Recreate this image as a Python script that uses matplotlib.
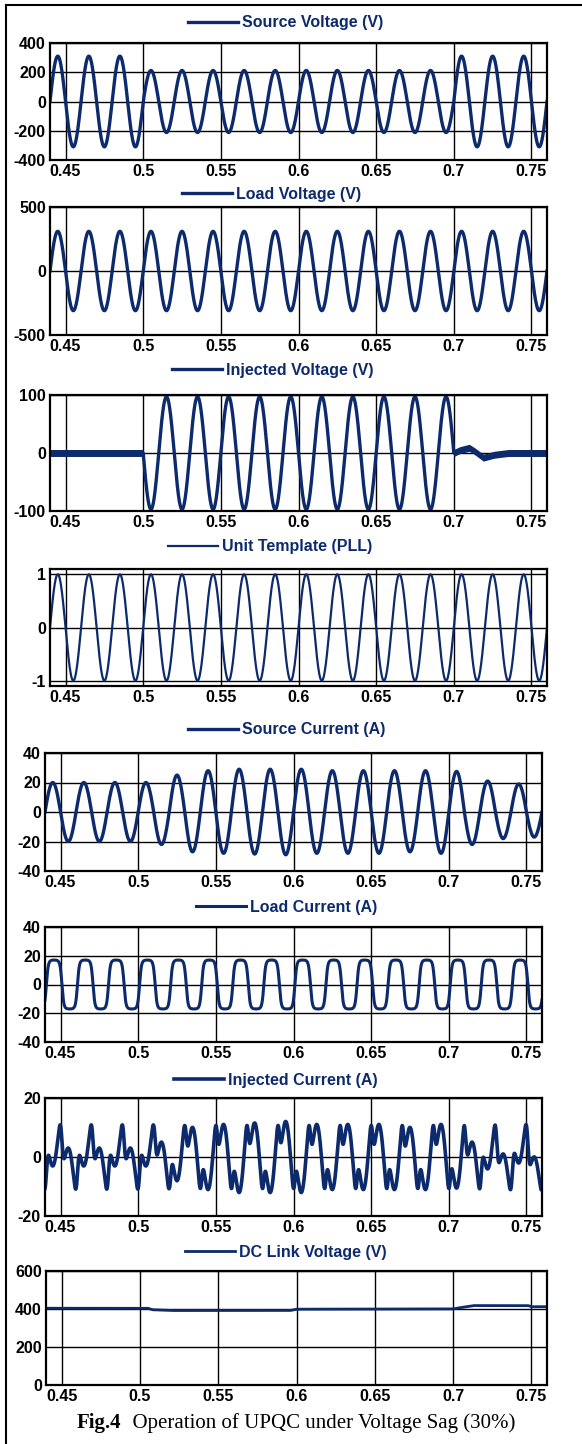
import numpy as np
import matplotlib
matplotlib.use("Agg")
import matplotlib.pyplot as plt
from matplotlib.lines import Line2D

# ---------------- data ----------------
t_start, t_end = 0.44, 0.76
f_grid = 50.0                      # Hz, supply frequency
half_period = 0.01                 # s

xticks = [0.45, 0.5, 0.55, 0.6, 0.65, 0.7, 0.75]
xtick_labels = ["0.45", "0.5", "0.55", "0.6", "0.65", "0.7", "0.75"]

# peak value of each half cycle (32 half cycles from 0.44 s to 0.76 s)
source_voltage_peaks = [310, 310, 310, 310, 310, 310,
                        212, 212, 212, 212, 212, 212, 212, 212, 212, 212,
                        212, 212, 212, 212, 212, 212, 212, 212, 212, 212,
                        310, 310, 310, 310, 310, 310]
load_voltage_peaks = [310] * 32
injected_voltage_peaks = [0, 0, 0, 0, 0, 0,
                          -97, -97, -97, -97, -97, -97, -97, -97, -97, -97,
                          -97, -97, -97, -97, -97, -97, -97, -97, -97, -97,
                          0, 0, 0, 0, 0, 0]
# transient of the series inverter after the sag clears
inj_transient_t = [0.700, 0.704, 0.710, 0.714, 0.719, 0.726, 0.735, 0.760]
inj_transient_v = [0, 5, 9, 2, -8, -3, 0, 0]
# width of switching-noise band (segments 0.44-0.5, 0.5-0.7, 0.7-0.76)
inj_noise_edges = [0.44, 0.50, 0.70, 0.76]
inj_noise_halfwidth = [6, 2.5, 6]

unit_template_peaks = [1.0] * 32

source_current_peaks = [20, 20, 20, 20, 20, 20, 20, 22, 25, 27, 28, 28, 29, 28.5, 29, 29,
                        29, 28, 28, 28, 28, 28, 28, 27, 28, 28, 27.5, 22, 21, 18, 19, 17]
load_current_peaks = [17] * 32
load_current_lag = 0.0009          # s, lag of the rectifier current
load_current_squareness = 2.6      # flat-top factor of the quasi-square current

dc_t = [0.440, 0.505, 0.508, 0.520, 0.596, 0.600, 0.700, 0.703, 0.713, 0.748, 0.750, 0.760]
dc_v = [404, 404, 396, 392, 392, 399, 400, 405, 418, 418, 412, 412]

legend_labels = ["Source Voltage (V)", "Load Voltage (V)", "Injected Voltage (V)",
                 "Unit Template (PLL)", "Source Current (A)", "Load Current (A)",
                 "Injected Current (A)", "DC Link Voltage (V)"]
ylims = [(-400, 400), (-500, 500), (-100, 100), (-1.1, 1.1),
         (-40, 40), (-40, 40), (-20, 20), (0, 600)]
yticks = [[-400, -200, 0, 200, 400], [-500, 0, 500], [-100, 0, 100], [-1, 0, 1],
          [-40, -20, 0, 20, 40], [-40, -20, 0, 20, 40], [-20, 0, 20], [0, 200, 400, 600]]
ytick_labels = [["-400", "-200", "0", "200", "400"], ["-500", "0", "500"],
                ["-100", "0", "100"], ["-1", "0", "1"],
                ["-40", "-20", "0", "20", "40"], ["-40", "-20", "0", "20", "40"],
                ["-20", "0", "20"], ["0", "200", "400", "600"]]
caption_bold = "Fig.4"
caption_rest = "  Operation of UPQC under Voltage Sag (30%)"

# ---------------- waveform construction ----------------
t = np.linspace(t_start, t_end, 6401)
theta = 2 * np.pi * f_grid * (t - t_start)
k = np.clip(((t - t_start) / half_period).astype(int), 0, 31)


def half_cycle_sine(peaks):
    return np.asarray(peaks, float)[k] * np.sin(theta)


v_source = half_cycle_sine(source_voltage_peaks)
v_load = half_cycle_sine(load_voltage_peaks)
v_inj = half_cycle_sine(injected_voltage_peaks) + np.interp(t, inj_transient_t, inj_transient_v)
seg = np.clip(np.searchsorted(inj_noise_edges, t, side="right") - 1, 0, 2)
v_inj_band = np.asarray(inj_noise_halfwidth, float)[seg]
u_tmpl = half_cycle_sine(unit_template_peaks)
i_source = half_cycle_sine(source_current_peaks)
s_lag = np.sin(theta - 2 * np.pi * f_grid * load_current_lag)
i_load = (np.asarray(load_current_peaks, float)[k] *
          np.tanh(load_current_squareness * s_lag) / np.tanh(load_current_squareness))
i_inj = i_load - i_source
v_dc = np.interp(t, dc_t, dc_v)

series = [v_source, v_load, v_inj, u_tmpl, i_source, i_load, i_inj, v_dc]

# ---------------- layout (pixels of the 582x1444 reference) ----------------
W, H = 582, 1444
navy = "#0c2a6c"
fig = plt.figure(figsize=(W / 100, H / 100), dpi=100)

axes_px = [(50, 547, 43, 160), (50, 547, 207, 335), (50, 547, 395, 511), (50, 547, 569, 686),
           (45, 542, 753, 871), (45, 542, 927, 1042), (45, 542, 1098, 1216), (46, 547, 1271, 1385)]
legend_px = [(188, 23), (182, 194), (172, 370), (168, 547),
             (188, 730), (196, 907), (174, 1080), (185, 1252)]
line_widths = [2.4, 2.4, 2.4, 1.6, 2.4, 2.2, 2.6, 2.0]

tick_font = dict(family="Liberation Sans", weight="bold", size=11.5)

for i in range(8):
    x0, x1, y0, y1 = axes_px[i]
    ax = fig.add_axes([x0 / W, 1 - y1 / H, (x1 - x0) / W, (y1 - y0) / H])
    ax.plot(t, series[i], color=navy, lw=line_widths[i], label=legend_labels[i],
            solid_joinstyle="round", zorder=3)
    if i == 2:
        ax.fill_between(t, v_inj - v_inj_band, v_inj + v_inj_band, color=navy, lw=0, zorder=3)
    ax.set_xlim(t_start, t_end)
    ax.set_ylim(*ylims[i])
    ax.set_xticks(xticks)
    ax.set_xticklabels(xtick_labels, fontdict=tick_font)
    ax.set_yticks(yticks[i])
    ax.set_yticklabels(ytick_labels[i], fontdict=tick_font)
    ax.tick_params(length=0, pad=3)
    ax.grid(True, color="black", lw=1.0, zorder=1)
    for sp in ax.spines.values():
        sp.set_linewidth(1.6)
        sp.set_color("black")
        sp.set_zorder(4)
    lx, ly = legend_px[i]
    ax.legend(loc="center left", bbox_to_anchor=(lx / W, 1 - ly / H),
              bbox_transform=fig.transFigure, frameon=False, borderpad=0,
              borderaxespad=0, handlelength=3.1, handletextpad=0.3,
              prop=dict(family="Liberation Sans", weight="bold", size=11.5),
              labelcolor=navy)

# figure frame (top and left edges visible in the reference)
fig.add_artist(Line2D([6 / W, 1.0], [1 - 5 / H, 1 - 5 / H], color="black", lw=1.5))
fig.add_artist(Line2D([6 / W, 6 / W], [0, 1 - 5 / H], color="black", lw=1.5))

# caption
renderer = fig.canvas.get_renderer()
cap_y = 1 - 1423 / H
tb = fig.text(77 / W, cap_y, caption_bold, family="Liberation Serif", weight="bold",
              size=15, va="center", ha="left")
bb = tb.get_window_extent(renderer)
fig.text(bb.x1 / W, cap_y, caption_rest, family="Liberation Serif", size=15,
         va="center", ha="left")

fig.savefig("out.png", dpi=100)
